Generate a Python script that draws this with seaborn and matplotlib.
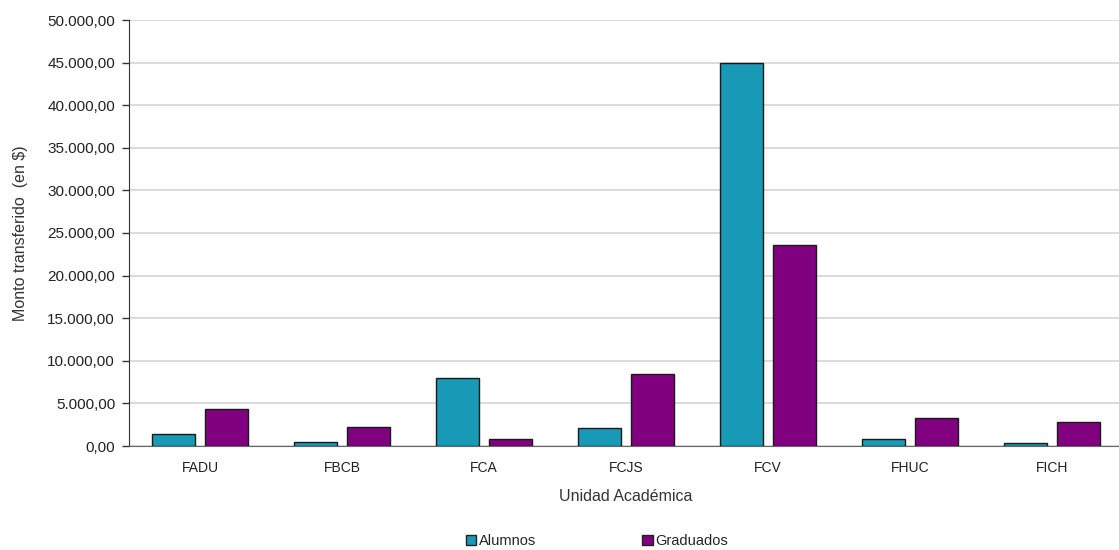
import pandas as pd
import numpy as np
import matplotlib
matplotlib.use("Agg")
import matplotlib.pyplot as plt
import seaborn as sns
from matplotlib.ticker import FuncFormatter, FixedLocator

# Data
unidades = ["FADU", "FBCB", "FCA", "FCJS", "FCV", "FHUC", "FICH"]
alumnos = [1370, 430, 7950, 2080, 44950, 860, 310]
graduados = [4300, 2230, 820, 8490, 23590, 3320, 2820]
series = ["Alumnos", "Graduados"]
colores = ["#1899B5", "#800080"]

df = pd.DataFrame({
    "Unidad": unidades * 2,
    "Monto": alumnos + graduados,
    "Serie": [series[0]] * len(unidades) + [series[1]] * len(unidades),
})

sns.set_style("white")
plt.rcParams["font.family"] = ["Liberation Sans", "DejaVu Sans"]

fig = plt.figure(figsize=(11.19, 5.5), dpi=100)
W, H = 1119, 550
ax = fig.add_axes([129 / W, 1 - 446 / H, 994 / W, 426 / H])

sns.barplot(data=df, x="Unidad", y="Monto", hue="Serie", palette=colores,
            width=0.754, gap=0.2, edgecolor="#1a1a1a", linewidth=1.0,
            saturation=1, ax=ax, legend=False, zorder=3)

ax.set_ylim(0, 50000)
ax.set_xlim(-0.5, len(unidades) - 0.5)
ax.set_yticks(np.arange(0, 50001, 5000))


def fmt_es(v, pos):
    s = f"{v:,.2f}"
    return s.replace(",", "X").replace(".", ",").replace("X", ".")


ax.yaxis.set_major_formatter(FuncFormatter(fmt_es))
ax.yaxis.grid(True, color="#d4d4d4", linewidth=1.2, zorder=0)
ax.set_axisbelow(True)

# category boundaries get the tick marks, labels stay centred
ax.xaxis.set_minor_locator(FixedLocator(np.arange(-0.5, len(unidades), 1.0)))
ax.tick_params(axis="x", which="major", length=0, pad=11, labelsize=10, colors="#222222")
ax.tick_params(axis="x", which="minor", length=5, width=1, color="#333333", direction="out")
ax.tick_params(axis="y", length=5, width=1, color="#333333", direction="out",
               labelsize=11, labelcolor="#222222", pad=5, left=True)

for side in ["top", "right"]:
    ax.spines[side].set_visible(False)
ax.spines["left"].set_color("#333333")
ax.spines["bottom"].set_color("#666666")

ax.set_xlabel("Unidad Académica", fontsize=11.5, color="#333333", labelpad=10)
ax.set_ylabel("Monto transferido  (en $)", fontsize=11.5, color="#333333", labelpad=14)

handles = [plt.Rectangle((0, 0), 1, 1, facecolor=c, edgecolor="#222222", linewidth=1)
           for c in colores]
fig.legend(handles, series, loc="center", bbox_to_anchor=(597 / W, 1 - 541 / H),
           ncol=2, frameon=False, fontsize=10.5, handlelength=0.7, handleheight=0.7,
           handletextpad=0.2, columnspacing=7.3)

fig.savefig("out.png", dpi=100)
